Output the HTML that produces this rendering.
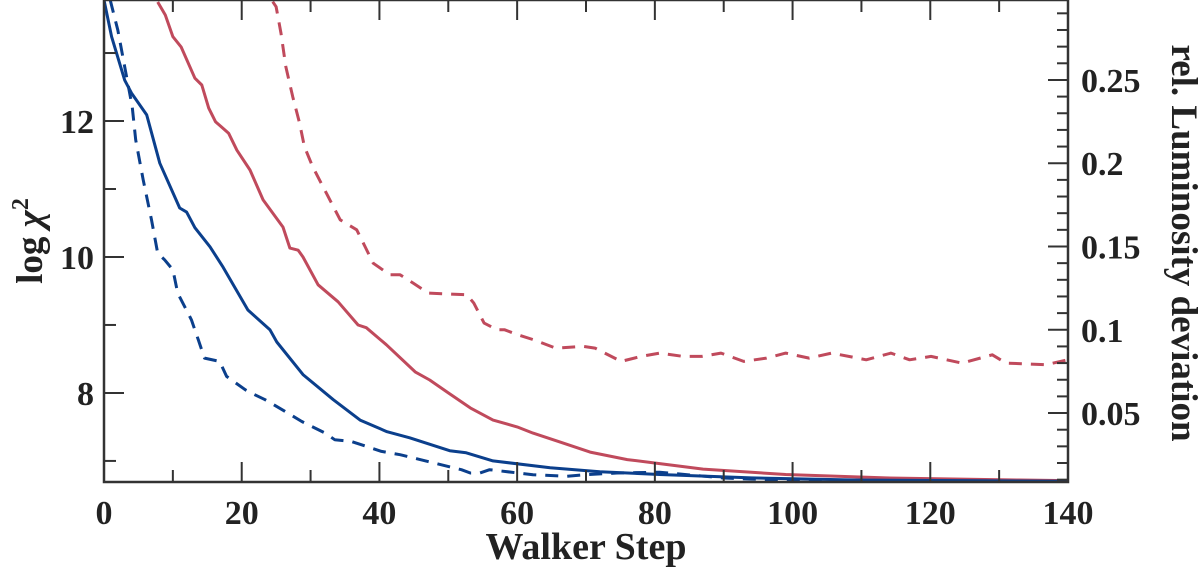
<!DOCTYPE html>
<html><head><meta charset="utf-8"><style>
html,body{margin:0;padding:0;background:#fff;}
svg{display:block;}
text{font-family:"Liberation Serif","DejaVu Serif",serif;font-weight:bold;fill:#222;}
</style></head><body>
<svg id="chart" width="1200" height="567" viewBox="0 0 1200 567" xmlns="http://www.w3.org/2000/svg"></svg>
<script>
const xTicks=[0,20,40,60,80,100,120,140];
const yLeftTicks=[8,10,12];
const yRightTicks=[0.05,0.1,0.15,0.2,0.25];
const yRightTickLabels=["0.05","0.1","0.15","0.2","0.25"];
const blueSolidX=[0,1.1,3,4,6.2,8.1,11,12,13.2,15.4,17.3,20.9,24.1,25.1,28.9,33.3,37.2,41.1,44.4,50.2,52.6,56.5,64.8,72,80.7,94,109,125,140];
const blueSolidY=[13.78,13.24,12.6,12.41,12.09,11.38,10.72,10.66,10.43,10.15,9.85,9.22,8.93,8.75,8.27,7.9,7.6,7.43,7.34,7.15,7.12,7.0,6.9,6.84,6.8,6.75,6.72,6.71,6.7];
const redSolidX=[7.8,8.9,10,11.2,13.2,14.2,15.2,16.2,18.1,19.3,21.2,23.1,26,27,28.2,28.9,31.1,34,36.9,38.1,41,45.2,47.3,50,53.2,56.5,60,62.3,66.2,70.6,76,80.7,87,99,113.5,133,140];
const redSolidY=[13.75,13.56,13.24,13.09,12.63,12.53,12.19,11.99,11.82,11.57,11.28,10.84,10.44,10.13,10.1,10.0,9.59,9.34,9.0,8.96,8.71,8.31,8.19,8.0,7.78,7.6,7.5,7.41,7.28,7.13,7.02,6.96,6.88,6.8,6.75,6.72,6.71];
const blueDashX=[0.9,2,3.1,4.1,4.6,5.7,6.9,7.8,8.8,10,10.7,12.7,13.7,14.6,16.8,17.8,20.5,21.4,23.4,26.3,28.7,32.1,33.5,35.9,40.3,43,51.9,53.2,54.6,56,62.3,67.2,70,74.5,80.7,90,100,120,140];
const blueDashY=[0.298,0.280,0.256,0.234,0.214,0.190,0.166,0.146,0.142,0.136,0.122,0.106,0.094,0.083,0.081,0.072,0.064,0.062,0.058,0.051,0.045,0.038,0.034,0.033,0.027,0.025,0.016,0.014,0.014,0.016,0.013,0.012,0.013,0.014,0.0145,0.011,0.0095,0.0092,0.009];
const redDashX=[24.5,25,25.7,26.4,27.4,28.4,29.1,30.3,32.3,34.3,36.7,37.9,39.1,41.5,43,44.9,47.1,52.7,53.7,55.2,57.1,58.2,60.1,62.4,65.6,69.6,71.3,75.1,78,80.7,84.1,86.8,89.6,92.9,96.2,99,102.4,105.7,110.7,114.3,117,120.1,124.6,129,131,136.8,140];
const redDashY=[0.297,0.294,0.278,0.258,0.240,0.224,0.210,0.198,0.182,0.166,0.160,0.150,0.140,0.133,0.133,0.128,0.122,0.121,0.116,0.104,0.100,0.100,0.097,0.094,0.089,0.090,0.089,0.081,0.084,0.086,0.084,0.084,0.086,0.081,0.083,0.086,0.083,0.086,0.082,0.086,0.082,0.084,0.080,0.085,0.080,0.079,0.082];

const X0=104,X1=1068,YT=0,YB=482;
const sx=v=>X0+(v-0)/(140-0)*(X1-X0);
const syL=v=>YB-(v-6.69)/(13.78-6.69)*(YB-YT);
const syR=v=>YB-(v-0.0086)/(0.298-0.0086)*(YB-YT);
const svg=document.getElementById('chart');
const NS='http://www.w3.org/2000/svg';
function mk(tag,attrs){const e=document.createElementNS(NS,tag);for(const k in attrs)e.setAttribute(k,attrs[k]);svg.appendChild(e);return e;}

function series(xs,ys,sy,color,dash,name){
  const d=xs.map((x,i)=>(i?'L':'M')+sx(x).toFixed(1)+','+sy(ys[i]).toFixed(1)).join('');
  const p=mk('path',{d:d,fill:'none',stroke:color,'stroke-width':3,'stroke-linejoin':'round','clip-path':'url(#c)'});
  if(dash)p.setAttribute('stroke-dasharray','13,9');
  
  
}
const clip=mk('clipPath',{id:'c'});
const r=document.createElementNS(NS,'rect');r.setAttribute('x',X0);r.setAttribute('y',YT);r.setAttribute('width',X1-X0);r.setAttribute('height',YB-YT);clip.appendChild(r);
series(redDashX,redDashY,syR,'#c04a5c',true,'red-dashed-luminosity-line');
series(blueDashX,blueDashY,syR,'#0b3f8c',true,'blue-dashed-luminosity-line');
series(redSolidX,redSolidY,syL,'#c04a5c',false,'red-solid-chi2-line');
series(blueSolidX,blueSolidY,syL,'#0b3f8c',false,'blue-solid-chi2-line');

const ax='#333';
const fr=mk('rect',{x:X0,y:YT,width:X1-X0,height:YB-YT,fill:'none',stroke:ax,'stroke-width':2.5});


for(let v=0;v<=140;v+=10){
  const len=(v%20===0)?20:12;
  mk('line',{x1:sx(v),x2:sx(v),y1:YB,y2:YB-len,stroke:ax,'stroke-width':2});
  mk('line',{x1:sx(v),x2:sx(v),y1:YT,y2:YT+len,stroke:ax,'stroke-width':2});
}
xTicks.forEach(v=>{
  const t=mk('text',{x:sx(v),y:524,'font-size':34,'text-anchor':'middle'});t.textContent=v;
  
  
});
for(let v=7;v<=13;v++){
  const len=(v%2===0)?20:12;
  mk('line',{x1:X0,x2:X0+len,y1:syL(v),y2:syL(v),stroke:ax,'stroke-width':2});
}
yLeftTicks.forEach(v=>{
  const t=mk('text',{x:94,y:syL(v)+12,'font-size':34,'text-anchor':'end'});t.textContent=v;
  
  
});
for(let i=1;i<=29;i++){
  const v=i/100;
  const len=(i%5===0)?20:11;
  mk('line',{x1:X1,x2:X1-len,y1:syR(v),y2:syR(v),stroke:ax,'stroke-width':2});
}
yRightTicks.forEach((v,i)=>{
  const t=mk('text',{x:1081,y:syR(v)+12,'font-size':34,'text-anchor':'start'});t.textContent=yRightTickLabels[i];
  
  
});
const xt=mk('text',{x:586,y:559,'font-size':38,'text-anchor':'middle'});xt.textContent='Walker Step';


const yl=mk('text',{x:0,y:0,'font-size':37,'text-anchor':'middle',transform:'translate(42,241) rotate(-90)'});
yl.innerHTML='log <tspan font-style="italic">χ</tspan><tspan font-size="24" dy="-14">2</tspan>';


const yr=mk('text',{x:0,y:0,'font-size':37,'text-anchor':'middle',transform:'translate(1172,243) rotate(90)'});
yr.textContent='rel. Luminosity deviation';


</script>
</body></html>
